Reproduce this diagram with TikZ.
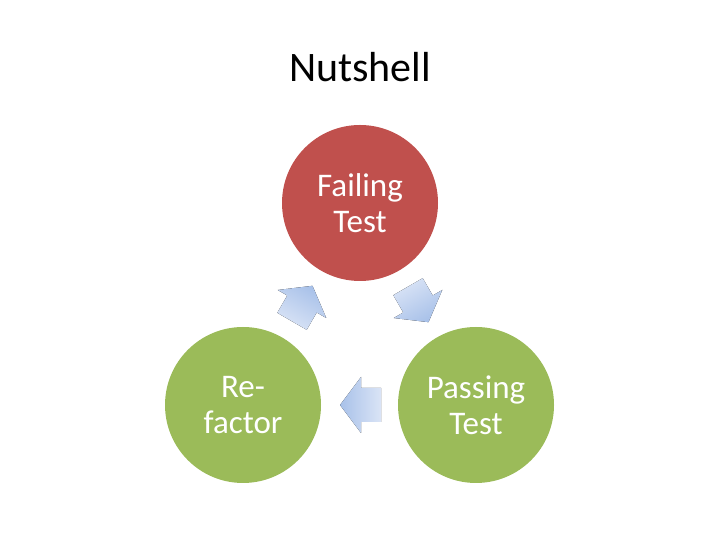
\documentclass[tikz,border=0pt]{standalone}
\usepackage{fontspec}
\setmainfont{Carlito}
\definecolor{failred}{RGB}{192,80,77}
\definecolor{passgreen}{RGB}{155,187,89}
\definecolor{arrowtop}{RGB}{218,228,246}
\definecolor{arrowbot}{RGB}{168,193,233}
\begin{document}
\begin{tikzpicture}[x=1pt,y=1pt,
  stagecircle/.style={circle,minimum size=156pt,inner sep=0pt,align=center,
    font=\fontsize{33}{36}\selectfont,text=white},
  cyclearrow/.style={left color=arrowtop,right color=arrowbot,draw=none}]
\useasboundingbox (0,0) rectangle (720,540);
\node[font=\fontsize{42}{48}\selectfont] (title) at (360,473) {Nutshell};
\node[stagecircle,fill=failred] (fail) at (360,337) {Failing\\Test};
\node[stagecircle,fill=passgreen] (pass) at (476,135) {Passing\\Test};
\node[stagecircle,fill=passgreen] (refac) at (243,135) {Re-\\factor};
% arrows
\foreach \cx/\cy/\ang in {361/135/180, 302/236/60, 418/236/-60}{
  \begin{scope}[shift={(\cx,\cy)},rotate=\ang]
    \fill[cyclearrow,shading angle=\ang+90] (-20,-17) -- (0,-17) -- (0,-28) -- (21,0) -- (0,28) -- (0,17) -- (-20,17) -- cycle;
  \end{scope}
}
\end{tikzpicture}
\end{document}
